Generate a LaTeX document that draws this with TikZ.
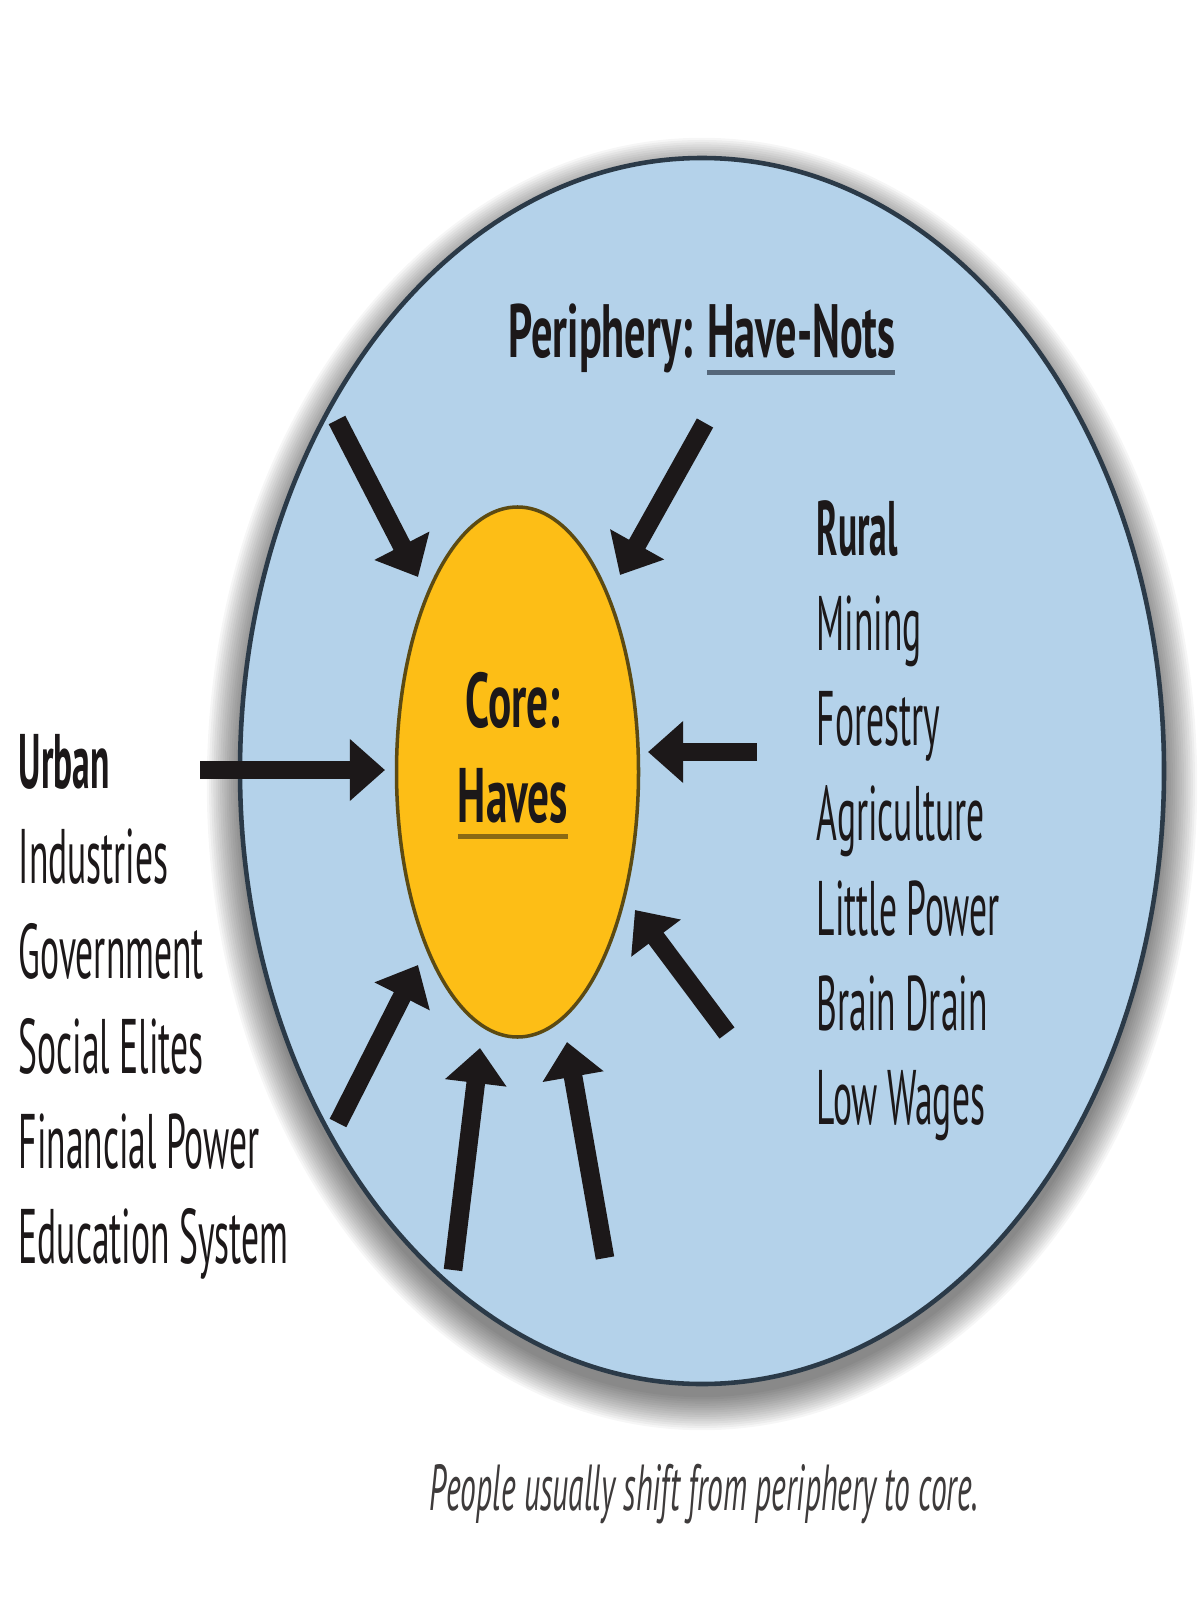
\documentclass[tikz,border=0pt]{standalone}
\usepackage{fontspec}
\setmainfont{PT Sans}[FakeStretch=0.46]
\newfontfamily\labelfont{PT Sans}[FakeStretch=0.56]
\newfontfamily\notefont{PT Sans}[FakeStretch=0.485]
\usetikzlibrary{arrows.meta, shapes.geometric, positioning}
\definecolor{sky}{HTML}{B4D2EA}
\definecolor{rim}{HTML}{2B3A48}
\definecolor{coreyellow}{HTML}{FDBE16}
\definecolor{corerim}{HTML}{5C4A12}
\definecolor{ink}{HTML}{1C1819}
\definecolor{haveline}{HTML}{55677A}
\definecolor{havesline}{HTML}{8A6A14}
\tikzset{>=latex}
\tikzset{
  push/.style={draw=ink, line width=5.3pt, -{Triangle[length=10pt,width=17pt]}},
  listtext/.style={anchor=north west, inner sep=0pt, align=left, text=ink, font=\fontsize{22}{27}\selectfont},
}
\newsavebox\ulbox
\newcommand\ulword[2]{\sbox\ulbox{#2}\leavevmode\vtop{\offinterlineskip\hbox{\usebox\ulbox}\kern3pt\hbox{\color{#1}\rule{\wd\ulbox}{1.4pt}}}}

\begin{document}
\begin{tikzpicture}[x=1cm, y=-1cm]
\useasboundingbox (0,0) rectangle (12,16);
\fill[white] (0,0) rectangle (12,16);
% soft shadow round the periphery
\foreach \k in {1,...,16}
  \fill[black, opacity=0.035] (7.02,7.84) ellipse ({(4.60+0.022*\k)*1cm} and {(6.11+0.022*\k)*1cm});
\node[ellipse, draw=rim, line width=1.3pt, fill=sky, inner sep=0pt, minimum width=9.24cm, minimum height=12.26cm] (periphery) at (7.02,7.71) {};
\node[ellipse, draw=corerim, line width=1pt, fill=coreyellow, inner sep=0pt, minimum width=2.42cm, minimum height=5.3cm] (core) at (5.175,7.72) {};

\node[font=\labelfont\fontsize{21.5}{26}\selectfont\bfseries, text=ink, anchor=base] (peritext) at (7.02,3.58) {Periphery: \ulword{haveline}{Have-Nots}};
\node[font=\labelfont\fontsize{22}{27}\selectfont\bfseries, text=ink, align=center, anchor=north, inner sep=0pt] (coretext) at (5.13,6.72) {Core:\\\ulword{havesline}{Haves}};

\node[listtext] (urban) at (0.18,7.34) {\textbf{Urban}\\Industries\\Government\\Social Elites\\Financial Power\\Education System};
\node[listtext] (rural) at (8.16,5.00) {\textbf{Rural}\\Mining\\Forestry\\Agriculture\\Little Power\\Brain Drain\\Low Wages};

% arrows towards the core
\foreach \name/\tail/\tip in {ul/{3.37,4.20}/{4.18,5.77}, ur/{7.05,4.23}/{6.20,5.75}, le/{2.00,7.70}/{3.85,7.70}, ri/{7.57,7.52}/{6.48,7.52}, lr/{7.27,10.33}/{6.35,9.10}, ll/{3.38,11.23}/{4.18,9.65}, bl/{4.53,12.70}/{4.80,10.48}, br/{6.05,12.58}/{5.67,10.42}}
{
  \coordinate (\name-tail) at (\tail);
  \coordinate (\name-tip) at (\tip);
  \draw[push] (\name-tail) -- (\name-tip);
}

\node[font=\notefont\fontsize{18.5}{22}\selectfont\itshape, text=ink!85, anchor=base] (caption) at (7.04,15.10) {People usually shift from periphery to core.};
\end{tikzpicture}
\end{document}
